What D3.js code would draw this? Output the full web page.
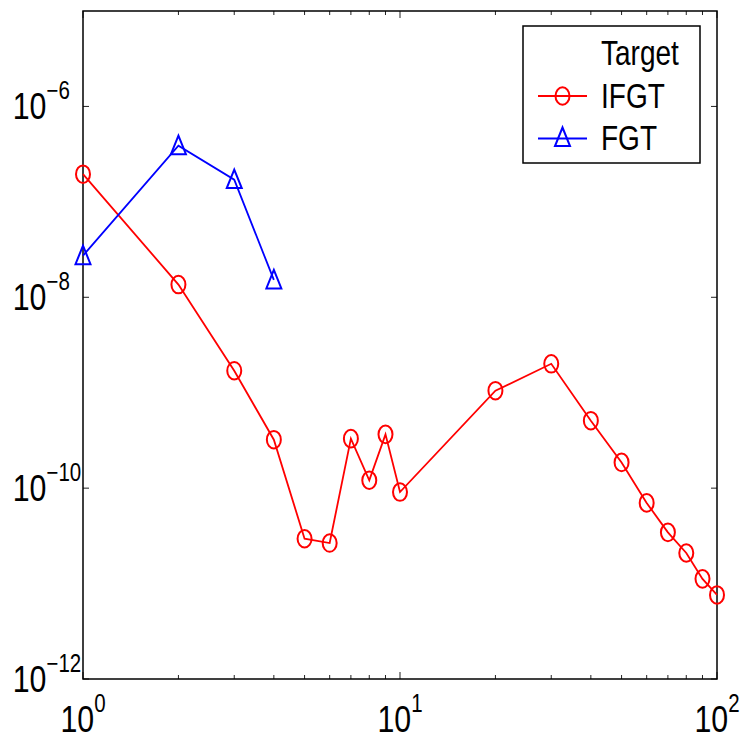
<!DOCTYPE html>
<html>
<head>
<meta charset="utf-8">
<script src="https://cdn.jsdelivr.net/npm/d3@7"></script>
<style>
  body { margin: 0; background: #fff; }
  text { font-family: "Liberation Sans", Arial, sans-serif; fill: #000; }
</style>
</head>
<body>
<script>
// values
var ifgtX = [1, 2, 3, 4, 5, 6, 7, 8, 9, 10, 20, 30, 40, 50, 60, 70, 80, 90, 100];
var ifgtY = [1.95e-7, 1.36e-8, 1.70e-9, 3.22e-10, 2.95e-11, 2.66e-11, 3.30e-10, 1.21e-10,
             3.66e-10, 9.1e-11, 1.05e-9, 2.01e-9, 5.09e-10, 1.86e-10, 7.0e-11, 3.44e-11,
             2.09e-11, 1.12e-11, 7.6e-12];
var fgtX = [1, 2, 3, 4];
var fgtY = [2.73e-8, 3.88e-7, 1.71e-7, 1.52e-8];
var xTickExps = [0, 1, 2];
var yTickExps = [-6, -8, -10, -12];
var legendLabels = ['Target', 'IFGT', 'FGT'];

var W = 744, H = 741;
var pLeft = 83, pRight = 717, pTop = 11, pBottom = 679;
var squish = 0.8; // glyphs in the picture are narrow

var svg = d3.select('body').append('svg')
  .attr('width', W)
  .attr('height', H);

var x = d3.scaleLog().domain([1, 100]).range([pLeft, pRight]);
var y = d3.scaleLog().domain([1e-12, 1e-5]).range([pBottom, pTop]);

// ticks
var minorX = [];
for (var d = 1; d <= 100; d *= 10) {
  for (var k = 2; k <= 9 && d * k < 100; k++) minorX.push(d * k);
}
var ticks = svg.append('g').attr('stroke', '#222').attr('stroke-width', 1);
minorX.forEach(function(v) {
  ticks.append('line').attr('x1', x(v)).attr('x2', x(v)).attr('y1', pBottom).attr('y2', pBottom - 4);
  ticks.append('line').attr('x1', x(v)).attr('x2', x(v)).attr('y1', pTop).attr('y2', pTop + 4);
});
xTickExps.forEach(function(e) {
  var v = Math.pow(10, e);
  ticks.append('line').attr('x1', x(v)).attr('x2', x(v)).attr('y1', pBottom).attr('y2', pBottom - 7);
  ticks.append('line').attr('x1', x(v)).attr('x2', x(v)).attr('y1', pTop).attr('y2', pTop + 7);
});
yTickExps.forEach(function(e) {
  var v = Math.pow(10, e);
  ticks.append('line').attr('x1', pLeft).attr('x2', pLeft + 6).attr('y1', y(v)).attr('y2', y(v));
  ticks.append('line').attr('x1', pRight).attr('x2', pRight - 6).attr('y1', y(v)).attr('y2', y(v));
});

// frame
svg.append('rect')
  .attr('x', pLeft).attr('y', pTop)
  .attr('width', pRight - pLeft).attr('height', pBottom - pTop)
  .attr('fill', 'none').attr('stroke', '#000').attr('stroke-width', 1.5);

// tick labels
function powerLabel(g, e, anchor) {
  var t = g.append('text').attr('font-size', 37).attr('text-anchor', anchor);
  t.append('tspan').text('10');
  t.append('tspan').attr('font-size', 25).attr('dx', 0).attr('dy', -20)
    .text(e < 0 ? '\u2212' + (-e) : String(e));
}
xTickExps.forEach(function(e) {
  var g = svg.append('g')
    .attr('transform', 'translate(' + x(Math.pow(10, e)) + ',' + (pBottom + 53) + ') scale(0.82,1)');
  powerLabel(g, e, 'middle');
});
yTickExps.forEach(function(e) {
  var g = svg.append('g')
    .attr('transform', 'translate(12.7,' + (y(Math.pow(10, e)) + 13) + ') scale(0.82,1)');
  powerLabel(g, e, 'start');
});

// series
var line = d3.line()
  .x(function(d) { return x(d[0]); })
  .y(function(d) { return y(d[1]); });

function circleMark(g, cx, cy, color) {
  g.append('ellipse').attr('cx', cx).attr('cy', cy).attr('rx', 7).attr('ry', 8.8)
    .attr('fill', 'none').attr('stroke', color).attr('stroke-width', 2);
}
function triMark(g, cx, cy, color) {
  var p = [[cx, cy - 10], [cx + 7.5, cy + 8.5], [cx - 7.5, cy + 8.5]];
  g.append('path').attr('d', 'M' + p.join('L') + 'Z')
    .attr('fill', 'none').attr('stroke', color).attr('stroke-width', 2);
}

var ifgt = d3.zip(ifgtX, ifgtY);
var fgt = d3.zip(fgtX, fgtY);

var gI = svg.append('g');
gI.append('path').attr('d', line(ifgt))
  .attr('fill', 'none').attr('stroke', '#ff0000').attr('stroke-width', 1.8);
ifgt.forEach(function(d) { circleMark(gI, x(d[0]), y(d[1]), '#ff0000'); });

var gF = svg.append('g');
gF.append('path').attr('d', line(fgt))
  .attr('fill', 'none').attr('stroke', '#0000ff').attr('stroke-width', 1.8);
fgt.forEach(function(d) { triMark(gF, x(d[0]), y(d[1]), '#0000ff'); });

// legend
var lg = svg.append('g');
lg.append('rect')
  .attr('x', 523).attr('y', 26).attr('width', 177).attr('height', 137)
  .attr('fill', '#fff').attr('stroke', '#000').attr('stroke-width', 1.5);
var baselines = [65, 107.5, 150];
legendLabels.forEach(function(lab, i) {
  lg.append('g')
    .attr('transform', 'translate(601,' + baselines[i] + ') scale(' + squish + ',1)')
    .append('text').attr('font-size', 35).text(lab);
});
var colors = ['#ff0000', '#0000ff'];
[1, 2].forEach(function(i) {
  var ly = baselines[i] - 11.5;
  lg.append('line').attr('x1', 538).attr('x2', 587).attr('y1', ly).attr('y2', ly)
    .attr('stroke', colors[i - 1]).attr('stroke-width', 1.8);
  if (i === 1) circleMark(lg, 562.5, ly, colors[0]);
  else triMark(lg, 562.5, ly - 1, colors[1]);
});
</script>
</body>
</html>
